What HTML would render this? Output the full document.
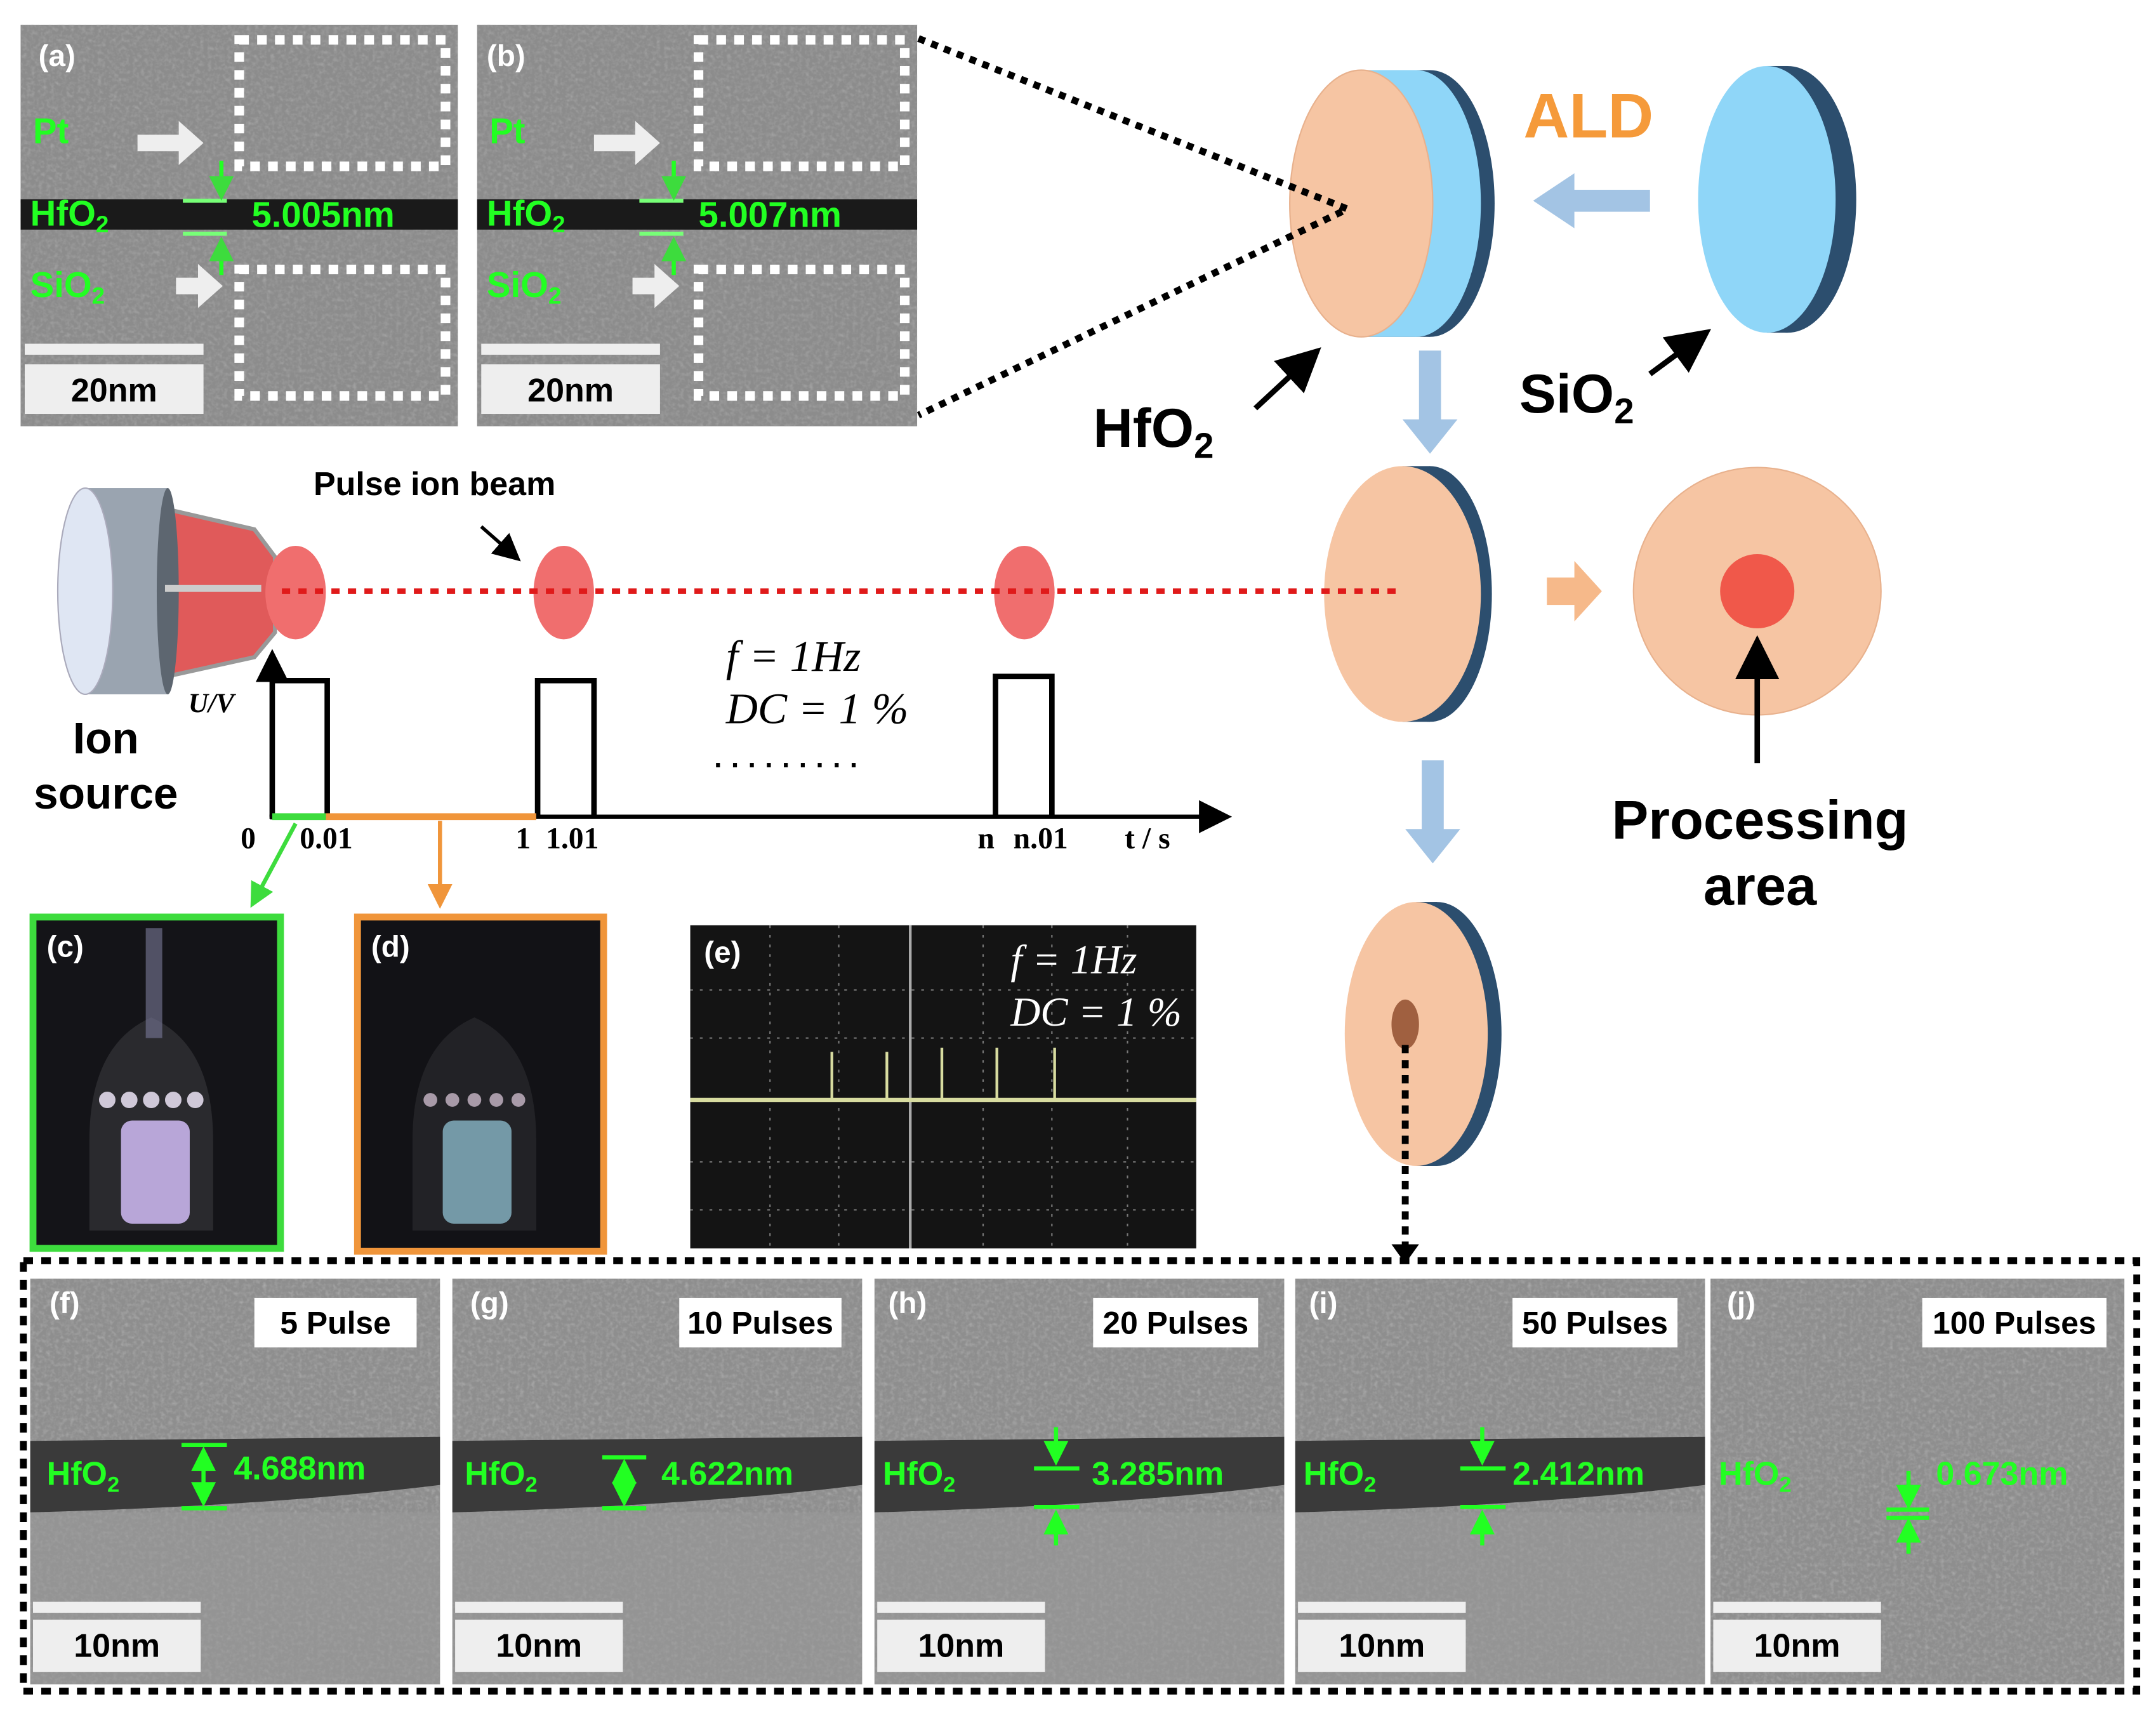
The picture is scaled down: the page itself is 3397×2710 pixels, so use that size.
<!DOCTYPE html><html><head><meta charset="utf-8"><style>html,body{margin:0;padding:0;background:#fff}svg{display:block}</style></head><body>
<svg xmlns="http://www.w3.org/2000/svg" width="3397" height="2710" viewBox="0 0 1568 1251" preserveAspectRatio="none" font-family="Liberation Sans, sans-serif">
<defs>
<filter id="nz" x="0" y="0" width="100%" height="100%"><feTurbulence type="fractalNoise" baseFrequency="0.35" numOctaves="2" seed="3"/><feColorMatrix type="matrix" values="0 0 0 0 0.5 0 0 0 0 0.5 0 0 0 0 0.5 0.9 0.9 0.9 0 -1.2"/></filter>
<marker id="ah" markerWidth="8" markerHeight="8" refX="6" refY="4" orient="auto" markerUnits="strokeWidth"><path d="M0,0L8,4L0,8z" fill="#000"/></marker>
<marker id="ahg" markerWidth="6" markerHeight="6" refX="4" refY="3" orient="auto" markerUnits="strokeWidth"><path d="M0,0L6,3L0,6z" fill="#3ddc3d"/></marker>
<marker id="ahs" markerWidth="6" markerHeight="6" refX="4" refY="3" orient="auto-start-reverse" markerUnits="strokeWidth"><path d="M0,0L6,3L0,6z" fill="#2f2"/></marker>
<marker id="aho" markerWidth="6" markerHeight="6" refX="4" refY="3" orient="auto" markerUnits="strokeWidth"><path d="M0,0L6,3L0,6z" fill="#f0953a"/></marker>
<g id="wbox"><rect width="150" height="92" fill="none" stroke="#fff" stroke-width="7" stroke-dasharray="7,6"/></g>
</defs>

<g>
<rect x="15" y="18" width="318" height="292" fill="#8c8c8c"/><rect x="15" y="18" width="318" height="292" filter="url(#nz)" opacity="0.5"/>
<rect x="15" y="145" width="318" height="22" fill="#1a1a1a"/>
<use href="#wbox" x="174" y="29"/><use href="#wbox" x="174" y="196"/>
<path d="M100,98h30v-10l18,16l-18,16v-10h-30z" fill="#eee"/><path d="M128,202h16v-10l18,16l-18,16v-10h-16z" fill="#eee"/>
<line x1="133" y1="146" x2="165" y2="146" stroke="#7f7" stroke-width="3"/><line x1="133" y1="170" x2="165" y2="170" stroke="#7f7" stroke-width="3"/>
<line x1="161" y1="117" x2="161" y2="140" stroke="#2f2" stroke-width="3" marker-end="url(#ahg)"/><line x1="161" y1="200" x2="161" y2="178" stroke="#2f2" stroke-width="3" marker-end="url(#ahg)"/>
<text x="28" y="48" font-size="22" font-weight="bold" fill="#fff">(a)</text>
<text x="24" y="104" font-size="26" font-weight="bold" fill="#2f2">Pt</text>
<text x="22" y="164" font-size="26" font-weight="bold" fill="#2f2">HfO<tspan font-size="17" dy="5">2</tspan></text>
<text x="183" y="165" font-size="26" font-weight="bold" fill="#2f2">5.005nm</text>
<text x="22" y="216" font-size="26" font-weight="bold" fill="#2f2">SiO<tspan font-size="17" dy="5">2</tspan></text>
<rect x="18" y="250" width="130" height="8" fill="#eee"/><rect x="18" y="265" width="130" height="36" fill="#eee"/>
<text x="83" y="292" font-size="24" font-weight="bold" text-anchor="middle">20nm</text>
</g>
<g transform="translate(332,0)">
<rect x="15" y="18" width="320" height="292" fill="#8c8c8c"/><rect x="15" y="18" width="320" height="292" filter="url(#nz)" opacity="0.5"/>
<rect x="15" y="145" width="320" height="22" fill="#1a1a1a"/>
<use href="#wbox" x="176" y="29"/><use href="#wbox" x="176" y="196"/>
<path d="M100,98h30v-10l18,16l-18,16v-10h-30z" fill="#eee"/><path d="M128,202h16v-10l18,16l-18,16v-10h-16z" fill="#eee"/>
<line x1="133" y1="146" x2="165" y2="146" stroke="#7f7" stroke-width="3"/><line x1="133" y1="170" x2="165" y2="170" stroke="#7f7" stroke-width="3"/>
<line x1="158" y1="117" x2="158" y2="140" stroke="#2f2" stroke-width="3" marker-end="url(#ahg)"/><line x1="158" y1="200" x2="158" y2="178" stroke="#2f2" stroke-width="3" marker-end="url(#ahg)"/>
<text x="22" y="48" font-size="22" font-weight="bold" fill="#fff">(b)</text>
<text x="24" y="104" font-size="26" font-weight="bold" fill="#2f2">Pt</text>
<text x="22" y="164" font-size="26" font-weight="bold" fill="#2f2">HfO<tspan font-size="17" dy="5">2</tspan></text>
<text x="176" y="165" font-size="26" font-weight="bold" fill="#2f2">5.007nm</text>
<text x="22" y="216" font-size="26" font-weight="bold" fill="#2f2">SiO<tspan font-size="17" dy="5">2</tspan></text>
<rect x="18" y="250" width="130" height="8" fill="#eee"/><rect x="18" y="265" width="130" height="36" fill="#eee"/>
<text x="83" y="292" font-size="24" font-weight="bold" text-anchor="middle">20nm</text>
</g>

<ellipse cx="1040" cy="148" rx="47" ry="97" fill="#2c4e6e"/>
<rect x="992" y="51" width="48" height="194" fill="#2c4e6e"/>
<ellipse cx="1030" cy="148" rx="47" ry="97" fill="#8fd6f8"/>
<rect x="990" y="51" width="40" height="194" fill="#8fd6f8"/>
<ellipse cx="990" cy="148" rx="52" ry="97" fill="#f6c5a3" stroke="#e8b18d" stroke-width="1"/>
<path d="M668,28L980,152L668,302" fill="none" stroke="#000" stroke-width="5" stroke-dasharray="5,5"/>
<text x="1108" y="100" font-size="46" font-weight="bold" fill="#f59a3a">ALD</text>
<path d="M1200,138h-55v-12l-30,20l30,20v-12h55z" fill="#a3c4e4"/>
<ellipse cx="1300" cy="145" rx="50" ry="97" fill="#2c4e6e"/><rect x="1285" y="48" width="15" height="194" fill="#2c4e6e"/>
<ellipse cx="1285" cy="145" rx="50" ry="97" fill="#8fd6f8"/>
<text x="795" y="325" font-size="40" font-weight="bold">HfO<tspan font-size="26" dy="8">2</tspan></text>
<line x1="913" y1="297" x2="955" y2="258" stroke="#000" stroke-width="4" marker-end="url(#ah)"/>
<text x="1105" y="300" font-size="40" font-weight="bold">SiO<tspan font-size="26" dy="8">2</tspan></text>
<line x1="1200" y1="272" x2="1238" y2="244" stroke="#000" stroke-width="4" marker-end="url(#ah)"/>
<path d="M1032,255h16v50h12l-20,25l-20,-25h12z" fill="#a3c4e4"/>

<ellipse cx="1040" cy="432" rx="45" ry="93" fill="#2c4e6e"/><rect x="1020" y="339" width="20" height="186" fill="#2c4e6e"/>
<ellipse cx="1020" cy="432" rx="57" ry="93" fill="#f6c5a3"/>
<path d="M1125,420h20v-12l20,22l-20,22v-12h-20z" fill="#f6b98a"/>
<circle cx="1278" cy="430" r="90" fill="#f6c5a3" stroke="#e8b18d"/>
<circle cx="1278" cy="430" r="27" fill="#f0584a"/>
<line x1="1278" y1="555" x2="1278" y2="470" stroke="#000" stroke-width="4" marker-end="url(#ah)"/>
<text x="1280" y="610" font-size="40" font-weight="bold" text-anchor="middle">Processing</text>
<text x="1280" y="658" font-size="40" font-weight="bold" text-anchor="middle">area</text>
<path d="M1034,553h16v50h12l-20,25l-20,-25h12z" fill="#a3c4e4"/>

<ellipse cx="1045" cy="752" rx="47" ry="96" fill="#2c4e6e"/><rect x="1030" y="656" width="15" height="192" fill="#2c4e6e"/>
<ellipse cx="1030" cy="752" rx="52" ry="96" fill="#f6c5a3"/>
<ellipse cx="1022" cy="745" rx="10" ry="18" fill="#a06040"/>
<line x1="1022" y1="760" x2="1022" y2="912" stroke="#000" stroke-width="5" stroke-dasharray="6,5"/>
<path d="M1012,905l10,14l10,-14z" fill="#000"/>

<path d="M85,362L185,385L200,405L200,460L185,478L85,500z" fill="#e05a5a" stroke="#999" stroke-width="3"/>
<rect x="62" y="355" width="60" height="150" fill="#9aa4b0"/>
<ellipse cx="122" cy="430" rx="8" ry="75" fill="#5d6670"/>
<ellipse cx="62" cy="430" rx="20" ry="75" fill="#dfe6f3" stroke="#aab"/>
<line x1="120" y1="428" x2="190" y2="428" stroke="#ccc" stroke-width="5"/>
<ellipse cx="215" cy="431" rx="22" ry="34" fill="#f06e6e"/>
<ellipse cx="410" cy="431" rx="22" ry="34" fill="#f06e6e"/>
<ellipse cx="745" cy="431" rx="22" ry="34" fill="#f06e6e"/>
<line x1="205" y1="430" x2="1015" y2="430" stroke="#e01a1a" stroke-width="4" stroke-dasharray="6,6"/>
<text x="228" y="360" font-size="24" font-weight="bold">Pulse ion beam</text>
<line x1="350" y1="383" x2="375" y2="405" stroke="#000" stroke-width="2.5" marker-end="url(#ah)"/>
<text x="77" y="548" font-size="32" font-weight="bold" text-anchor="middle">Ion</text>
<text x="77" y="588" font-size="32" font-weight="bold" text-anchor="middle">source</text>
<text x="137" y="518" font-size="20" font-style="italic" font-family="Liberation Serif, serif" font-weight="bold">U/V</text>

<line x1="198" y1="596" x2="198" y2="478" stroke="#000" stroke-width="3" marker-end="url(#ah)"/>
<line x1="196" y1="594" x2="890" y2="594" stroke="#000" stroke-width="3" marker-end="url(#ah)"/>
<path d="M198,594V495H238V594M391,594V495H432V594M724,594V492H765V594" fill="none" stroke="#000" stroke-width="4"/>
<line x1="198" y1="594" x2="237" y2="594" stroke="#3ddc3d" stroke-width="5"/>
<line x1="237" y1="594" x2="390" y2="594" stroke="#f0953a" stroke-width="5"/>
<g font-family="Liberation Serif, serif" font-weight="bold" font-size="22">
<text x="175" y="617">0</text><text x="218" y="617">0.01</text><text x="375" y="617">1</text><text x="397" y="617">1.01</text>
<text x="711" y="617">n</text><text x="737" y="617">n.01</text><text x="818" y="617">t / s</text>
</g>
<text x="528" y="488" font-size="32" font-style="italic" font-family="Liberation Serif, serif">f = 1Hz</text>
<text x="528" y="526" font-size="32" font-style="italic" font-family="Liberation Serif, serif">DC = 1 %</text>
<text x="518" y="558" font-size="30" letter-spacing="4">.........</text>
<line x1="215" y1="599" x2="185" y2="655" stroke="#3ddc3d" stroke-width="3" marker-end="url(#ahg)"/>
<line x1="320" y1="597" x2="320" y2="655" stroke="#f0953a" stroke-width="3" marker-end="url(#aho)"/>

<rect x="24" y="667" width="180" height="241" fill="#141418" stroke="#3ddc3d" stroke-width="5"/>
<path d="M65,830Q65,760 110,740Q155,760 155,830V895H65z" fill="#2a2a2e"/>
<g fill="#cfc8d8"><circle cx="78" cy="800" r="6"/><circle cx="94" cy="800" r="6"/><circle cx="110" cy="800" r="6"/><circle cx="126" cy="800" r="6"/><circle cx="142" cy="800" r="6"/></g>
<rect x="88" y="815" width="50" height="75" rx="8" fill="#b8a6d8"/>
<rect x="106" y="675" width="12" height="80" fill="#7a7a9a" opacity="0.6"/>
<text x="34" y="696" font-size="22" font-weight="bold" fill="#fff">(c)</text>
<rect x="260" y="667" width="179" height="243" fill="#121216" stroke="#f0953a" stroke-width="5"/>
<path d="M300,830Q300,760 345,740Q390,760 390,830V895H300z" fill="#222226"/>
<g fill="#a89aa8"><circle cx="313" cy="800" r="5"/><circle cx="329" cy="800" r="5"/><circle cx="345" cy="800" r="5"/><circle cx="361" cy="800" r="5"/><circle cx="377" cy="800" r="5"/></g>
<rect x="322" y="815" width="50" height="75" rx="8" fill="#8ab8c8" opacity="0.8"/>
<text x="270" y="696" font-size="22" font-weight="bold" fill="#fff">(d)</text>
<rect x="502" y="673" width="368" height="235" fill="#141414"/>
<g stroke="#777" stroke-width="1" stroke-dasharray="2,5">
<line x1="502" y1="720" x2="870" y2="720"/><line x1="502" y1="755" x2="870" y2="755"/><line x1="502" y1="845" x2="870" y2="845"/><line x1="502" y1="880" x2="870" y2="880"/>
<line x1="560" y1="673" x2="560" y2="908"/><line x1="610" y1="673" x2="610" y2="908"/><line x1="715" y1="673" x2="715" y2="908"/><line x1="765" y1="673" x2="765" y2="908"/><line x1="820" y1="673" x2="820" y2="908"/>
</g>
<line x1="662" y1="673" x2="662" y2="908" stroke="#aaa" stroke-width="2"/>
<line x1="502" y1="800" x2="870" y2="800" stroke="#d8dca0" stroke-width="3"/>
<path d="M605,800V765M645,800V765M685,800V762M725,800V762M767,800V762" stroke="#d8dca0" stroke-width="2"/>
<text x="512" y="700" font-size="22" font-weight="bold" fill="#fff">(e)</text>
<text x="735" y="708" font-size="30" font-style="italic" fill="#fff" font-family="Liberation Serif, serif">f = 1Hz</text>
<text x="735" y="746" font-size="30" font-style="italic" fill="#fff" font-family="Liberation Serif, serif">DC = 1 %</text>

<rect x="17" y="917" width="1537" height="313" fill="none" stroke="#000" stroke-width="5" stroke-dasharray="7,6"/>
<g id="pf">
<rect x="22" y="930" width="298" height="295" fill="#8e8e8e"/><rect x="22" y="930" width="298" height="295" filter="url(#nz)" opacity="0.6"/>
<path d="M22,1048L320,1045V1080Q200,1095 22,1100z" fill="#3a3a3a"/>
<rect x="22" y="1100" width="298" height="125" fill="#9a9a9a" opacity="0.5"/>
<rect x="24" y="1165" width="122" height="8" fill="#eee"/><rect x="24" y="1178" width="122" height="38" fill="#eee"/>
<text x="85" y="1205" font-size="24" font-weight="bold" text-anchor="middle">10nm</text>
</g>
<use href="#pf" x="307"/><use href="#pf" x="614"/><use href="#pf" x="920"/>
<g><rect x="1244" y="930" width="301" height="295" fill="#8e8e8e"/><rect x="1244" y="930" width="301" height="295" filter="url(#nz)" opacity="0.6"/>
<rect x="1246" y="1165" width="122" height="8" fill="#eee"/><rect x="1246" y="1178" width="122" height="38" fill="#eee"/>
<text x="1307" y="1205" font-size="24" font-weight="bold" text-anchor="middle">10nm</text></g>
<g font-size="22" font-weight="bold" fill="#fff">
<text x="36" y="955">(f)</text><text x="342" y="955">(g)</text><text x="646" y="955">(h)</text><text x="952" y="955">(i)</text><text x="1256" y="955">(j)</text></g>
<g fill="#fff"><rect x="185" y="944" width="118" height="36"/><rect x="494" y="944" width="118" height="36"/><rect x="795" y="944" width="120" height="36"/><rect x="1100" y="944" width="120" height="36"/><rect x="1398" y="944" width="134" height="36"/></g>
<g font-size="23" font-weight="bold" text-anchor="middle">
<text x="244" y="970">5 Pulse</text><text x="553" y="970">10 Pulses</text><text x="855" y="970">20 Pulses</text><text x="1160" y="970">50 Pulses</text><text x="1465" y="970">100 Pulses</text></g>
<g font-size="24" font-weight="bold" fill="#2f2">
<text x="34" y="1080">HfO<tspan font-size="16" dy="5">2</tspan></text><text x="170" y="1076">4.688nm</text>
<text x="338" y="1080">HfO<tspan font-size="16" dy="5">2</tspan></text><text x="481" y="1080">4.622nm</text>
<text x="642" y="1080">HfO<tspan font-size="16" dy="5">2</tspan></text><text x="794" y="1080">3.285nm</text>
<text x="948" y="1080">HfO<tspan font-size="16" dy="5">2</tspan></text><text x="1100" y="1080">2.412nm</text>
<text x="1250" y="1080">HfO<tspan font-size="16" dy="5">2</tspan></text><text x="1408" y="1080">0.673nm</text></g>
<g stroke="#2f2" stroke-width="3">
<line x1="132" y1="1051" x2="165" y2="1051"/><line x1="132" y1="1097" x2="165" y2="1097"/><line x1="148" y1="1058" x2="148" y2="1090" marker-start="url(#ahs)" marker-end="url(#ahs)"/>
<line x1="438" y1="1060" x2="470" y2="1060"/><line x1="438" y1="1097" x2="470" y2="1097"/><line x1="454" y1="1067" x2="454" y2="1090" marker-start="url(#ahs)" marker-end="url(#ahs)"/>
<line x1="752" y1="1068" x2="785" y2="1068"/><line x1="752" y1="1096" x2="785" y2="1096"/><line x1="768" y1="1038" x2="768" y2="1060" marker-end="url(#ahs)"/><line x1="768" y1="1124" x2="768" y2="1104" marker-end="url(#ahs)"/>
<line x1="1062" y1="1068" x2="1095" y2="1068"/><line x1="1062" y1="1096" x2="1095" y2="1096"/><line x1="1078" y1="1038" x2="1078" y2="1060" marker-end="url(#ahs)"/><line x1="1078" y1="1124" x2="1078" y2="1104" marker-end="url(#ahs)"/>
<line x1="1372" y1="1098" x2="1403" y2="1098"/><line x1="1372" y1="1104" x2="1403" y2="1104"/><line x1="1388" y1="1070" x2="1388" y2="1092" marker-end="url(#ahs)"/><line x1="1388" y1="1130" x2="1388" y2="1110" marker-end="url(#ahs)"/>
</g>
</svg>
</body></html>
